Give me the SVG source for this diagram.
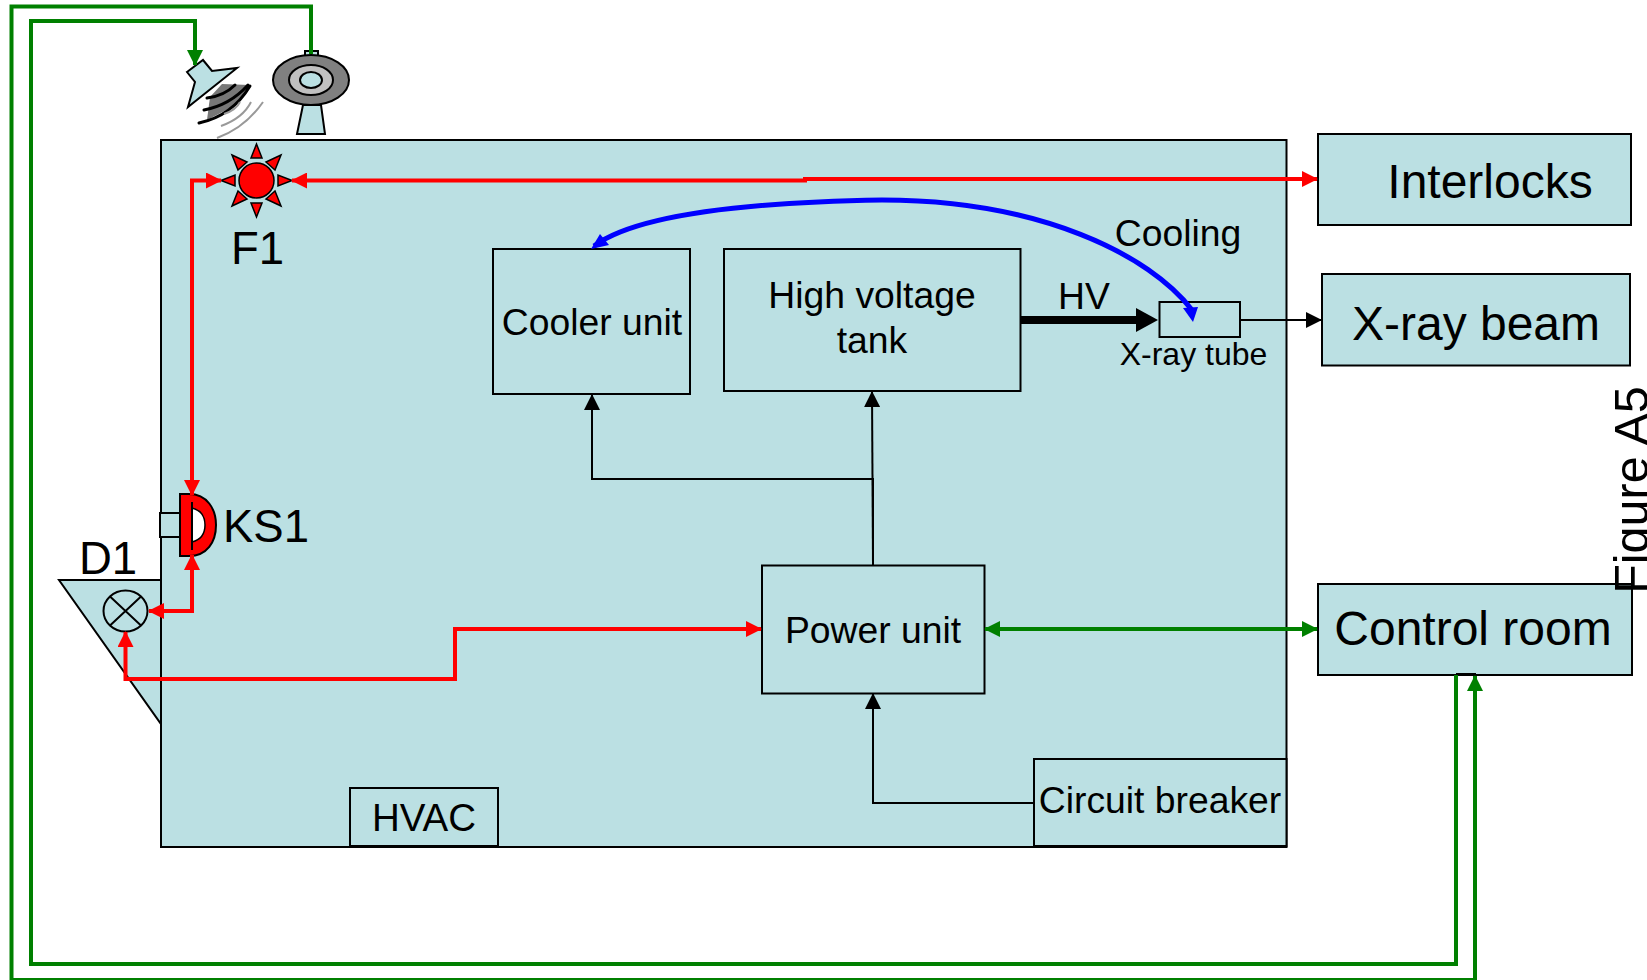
<svg xmlns="http://www.w3.org/2000/svg" width="1647" height="980" viewBox="0 0 1647 980">
<style>
.b{fill:#bbe0e3;stroke:#000;stroke-width:2}
.t{font-family:"Liberation Sans",Arial,sans-serif;fill:#000;text-anchor:middle}
.n{fill:none}
.red{stroke:#f00;stroke-width:4;fill:none}
.grn{stroke:#008000;stroke-width:4;fill:none}
.blk{stroke:#000;stroke-width:2;fill:none}
.rf{fill:#f00;stroke:#000;stroke-width:1.5;stroke-linejoin:miter}
</style>
<defs>
<marker id="ar" markerUnits="userSpaceOnUse" markerWidth="16" markerHeight="16" refX="15" refY="8" orient="auto-start-reverse"><path d="M0 0L16 8L0 16z" fill="#f00"/></marker>
<marker id="ag" markerUnits="userSpaceOnUse" markerWidth="16" markerHeight="16" refX="15" refY="8" orient="auto-start-reverse"><path d="M0 0L16 8L0 16z" fill="#008000"/></marker>
<marker id="ak" markerUnits="userSpaceOnUse" markerWidth="16" markerHeight="16" refX="15" refY="8" orient="auto"><path d="M0 0L16 8L0 16z" fill="#000"/></marker>
</defs>
<rect width="1647" height="980" fill="#fff"/>
<g id="d1"><path class="b" d="M59 580H161V724z"/><ellipse cx="125.500" cy="611" rx="22" ry="20.500" fill="#bbe0e3" stroke="#000" stroke-width="2"/><path class="blk" d="M110 596.500L141 625.500M141 596.500L110 625.500"/><text class="t" x="108" y="574" font-size="45.500">D1</text></g>
<g id="main"><rect class="b" x="161" y="140" width="1125.500" height="707"/></g>
<g id="hvac"><rect class="b" x="350" y="788" width="148" height="58"/><text class="t" x="424" y="831" font-size="38.500">HVAC</text></g>
<g id="breaker"><rect class="b" x="1034" y="759" width="252.500" height="87"/><text class="t" x="1160" y="813" font-size="37.300">Circuit breaker</text></g>
<g id="cooler"><rect class="b" x="493" y="249" width="197" height="145"/><text class="t" x="592" y="335" font-size="37.300">Cooler unit</text></g>
<g id="hvtank"><rect class="b" x="724" y="249" width="296.500" height="142"/><text class="t" x="872" y="308" font-size="37.300">High voltage</text><text class="t" x="872" y="353" font-size="37.300">tank</text></g>
<g id="power"><rect class="b" x="762" y="565.500" width="222.500" height="128"/><text class="t" x="873" y="643" font-size="37.300">Power unit</text></g>
<g id="tube"><rect class="b" x="1159.500" y="302" width="80.500" height="35"/><text class="t" x="1193.500" y="364.500" font-size="32">X-ray tube</text></g>
<g id="interlocks"><rect class="b" x="1318" y="134" width="313" height="91"/><text class="t" x="1490" y="198" font-size="48">Interlocks</text></g>
<g id="beam"><rect class="b" x="1322" y="274" width="308" height="91.500"/><text class="t" x="1476" y="340" font-size="48">X-ray beam</text></g>
<g id="control"><rect class="b" x="1318" y="584" width="314" height="91"/><path d="M1456 674H1476" stroke="#000" stroke-width="2"/><text class="t" x="1473" y="645" font-size="48">Control room</text></g>
<g id="horn"><path class="b" d="M187 72L203 60L212 71L237 68L188 107L195 82z"/><path d="M210 97L222 84L250 85L236 105L207 120z" fill="#777"/><path class="n" stroke="#000" stroke-width="3" stroke-linecap="round" d="M207 98Q224 96 235 85M204 110Q230 105 248 85M199 123Q232 116 250 86"/><path class="n" stroke="#999" stroke-width="2" d="M224 114Q236 110 240 102M221 126Q243 118 251 102M217 138Q245 128 263 102"/></g>
<g id="dish"><rect class="b" x="305" y="51" width="13" height="5"/><path class="b" d="M303 105H321L325 134H297z"/><ellipse cx="311" cy="80" rx="38" ry="25" fill="#808080" stroke="#000" stroke-width="2"/><ellipse cx="311" cy="80" rx="22" ry="15" fill="#c0c0c0" stroke="#000" stroke-width="2"/><ellipse cx="311" cy="80" rx="11" ry="8" fill="#bbe0e3" stroke="#000" stroke-width="2"/></g>
<g id="f1"><circle class="rf" cx="256.500" cy="180.500" r="17.500"/><path class="rf" d="M256.500 144L251 158H262zM256.500 217L251 203H262zM221 180.500L235 175V186zM292 180.500L278 175V186zM232 155L247 162L238 170zM281 155L266 162L275 170zM232 206L247 199L238 191zM281 206L266 199L275 191z"/><text class="t" x="257.500" y="264" font-size="45.500">F1</text></g>
<g id="ks1"><rect class="b" x="160" y="513" width="20" height="24"/><path d="M180 494H189C207 494 216 509 216 525C216 542 207 556 189 556H180z" fill="#f00" stroke="#000" stroke-width="2"/><path d="M192 508C200 510 205 516 205 525C205 534 200 540 192 542z" fill="#fff" stroke="#000" stroke-width="1.500"/><path class="blk" d="M192 502V550"/><text class="t" x="266" y="542" font-size="45.500">KS1</text></g>
<g id="connectors">
<path class="blk" d="M873 565V479H592V395" marker-end="url(#ak)"/>
<path class="blk" d="M873 565L872 392" marker-end="url(#ak)"/>
<path class="blk" d="M1034 803H873V694" marker-end="url(#ak)"/>
<path class="blk" d="M1240 320H1321" marker-end="url(#ak)"/>
<path d="M1021 320H1136" stroke="#000" stroke-width="8" fill="none"/><path d="M1136 308L1158 320L1136 332z" fill="#000"/>
<path class="red" d="M292 180.500H805V179H1317" marker-start="url(#ar)" marker-end="url(#ar)"/>
<path class="red" d="M221 180.500H192V495" marker-start="url(#ar)" marker-end="url(#ar)"/>
<path class="red" d="M192 555V611H149" marker-start="url(#ar)" marker-end="url(#ar)"/>
<path class="red" d="M125.500 632V679H455V629H761" marker-start="url(#ar)" marker-end="url(#ar)"/>
<path class="grn" d="M985 629H1317" marker-start="url(#ag)" marker-end="url(#ag)"/>
<path class="grn" d="M1456 675V964H31V21H195V65" marker-end="url(#ag)"/>
<path class="grn" d="M311 54V6.500H11.500V980H1475V676" marker-end="url(#ag)"/>
<path d="M1192 310C1150 255 1040 200 882 200C760 202 640 212 594 246" stroke="#00f" stroke-width="5" fill="none"/>
<path d="M1183 308L1198 307L1193 322z" fill="#00f"/><path d="M591 249L600 234L609 245z" fill="#00f"/>
</g>
<text class="t" x="1178" y="246" font-size="37.300">Cooling</text>
<text class="t" x="1084" y="309" font-size="37.300">HV</text>
<text class="t" transform="translate(1647.500 490) rotate(-90)" font-size="48.500">Figure A5</text>
</svg>
